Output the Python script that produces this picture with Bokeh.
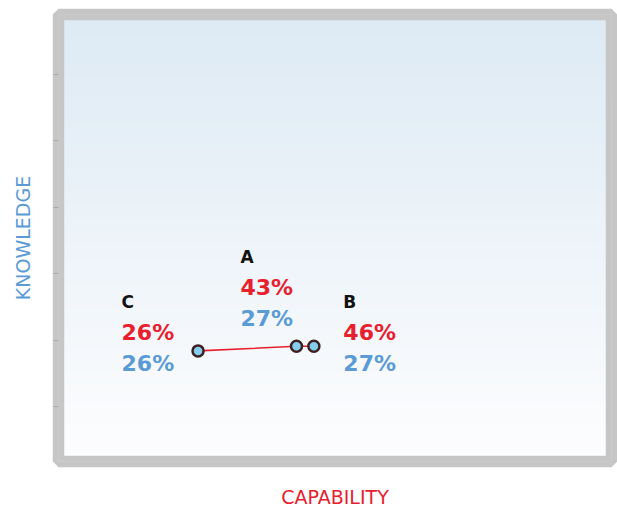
import numpy as np
from bokeh.plotting import figure
from bokeh.models import ColumnDataSource, Range1d, FixedTicker, CustomJSTickFormatter, BoxAnnotation
from bokeh.core.properties import value
from bokeh.embed import file_html
from bokeh.resources import INLINE

# ---- data ----
names = ["C", "A", "B"]
capability = [26, 43, 46]
knowledge = [26, 27, 27]
capability_labels = [f"{v}%" for v in capability]
knowledge_labels = [f"{v}%" for v in knowledge]
knowledge_ticks = [13.8, 28.3, 42.8, 57.3, 71.8, 86.3]

# ---- label placement (screen px, relative to each point) ----
label_dx = [-76.5, -56, 29.5]
label_dy = [-49, -89.5, -44.5]
row_gap = 31

X0, X1 = 1.9, 97.4
Y0, Y1 = 1.9, 99.3

RED = "#e8202e"
BLUE = "#5b9bd5"
BORDER = "#c6c6c6"

p = figure(width=617, height=510,
           x_range=Range1d(X0, X1), y_range=Range1d(Y0, Y1),
           output_backend="svg", toolbar_location=None,
           min_border_left=58, min_border_right=6,
           min_border_top=14, min_border_bottom=48)
p.background_fill_color = "white"
p.border_fill_color = "white"
p.outline_line_color = BORDER
p.outline_line_width = 11.5
p.grid.visible = False

# background gradient (light blue at top to white at bottom)
rows = 256
t = np.linspace(0, 1, rows)
top = np.array([221, 234, 244], dtype=float)
bot = np.array([253, 253, 254], dtype=float)
cols = bot + (top - bot) * t[:, None]
img = np.empty((rows, 4), dtype=np.uint32)
view = img.view(dtype=np.uint8).reshape((rows, 4, 4))
view[:, :, :3] = cols.round().astype(np.uint8)[:, None, :]
view[:, :, 3] = 255
p.image_rgba(image=[img], x=X0, y=Y0, dw=X1 - X0, dh=Y1 - Y0, level="image")

# gray frame drawn above the gradient
p.add_layout(BoxAnnotation(fill_alpha=0, line_color=BORDER, line_alpha=1.0,
                           line_width=11.5, level="underlay"))

# line and points
p.line(capability, knowledge, line_color=RED, line_width=1.6)
p.scatter(capability, knowledge, size=11, fill_color="#84cdee",
          line_color="#3d2020", line_width=2.5)

src = ColumnDataSource(dict(
    x=capability, y=knowledge, name=names,
    cap=capability_labels, know=knowledge_labels,
    dx=label_dx,
    dy1=label_dy,
    dy2=[d + row_gap for d in label_dy],
    dy3=[d + 2 * row_gap for d in label_dy],
))

p.text(x="x", y="y", text="name", x_offset="dx", y_offset="dy1", source=src,
       text_font=value("DejaVu Sans"), text_font_style="bold",
       text_font_size="17px", text_color="#111111",
       text_align="left", text_baseline="alphabetic")
p.text(x="x", y="y", text="cap", x_offset="dx", y_offset="dy2", source=src,
       text_font=value("DejaVu Sans"), text_font_style="bold",
       text_font_size="22px", text_color=RED,
       text_align="left", text_baseline="alphabetic")
p.text(x="x", y="y", text="know", x_offset="dx", y_offset="dy3", source=src,
       text_font=value("DejaVu Sans"), text_font_style="bold",
       text_font_size="22px", text_color=BLUE,
       text_align="left", text_baseline="alphabetic")

# axes
xa = p.xaxis[0]
xa.axis_label = "CAPABILITY"
xa.ticker = FixedTicker(ticks=[])
xa.axis_line_color = None
xa.major_tick_line_color = None
xa.minor_tick_line_color = None
xa.axis_label_text_font = "DejaVu Sans"
xa.axis_label_text_font_size = "19px"
xa.axis_label_text_font_style = "normal"
xa.axis_label_text_color = RED
xa.axis_label_standoff = 24

ya = p.yaxis[0]
ya.axis_label = "KNOWLEDGE"
ya.ticker = FixedTicker(ticks=knowledge_ticks)
ya.formatter = CustomJSTickFormatter(code="return ''")
ya.axis_line_color = None
ya.major_tick_in = 0
ya.major_tick_out = 5
ya.major_tick_line_color = "#a8a8a8"
ya.minor_tick_line_color = None
ya.axis_label_text_font = "DejaVu Sans"
ya.axis_label_text_font_size = "19px"
ya.axis_label_text_font_style = "normal"
ya.axis_label_text_color = BLUE
ya.axis_label_standoff = 20

open("out.html", "w").write(file_html(p, INLINE))
